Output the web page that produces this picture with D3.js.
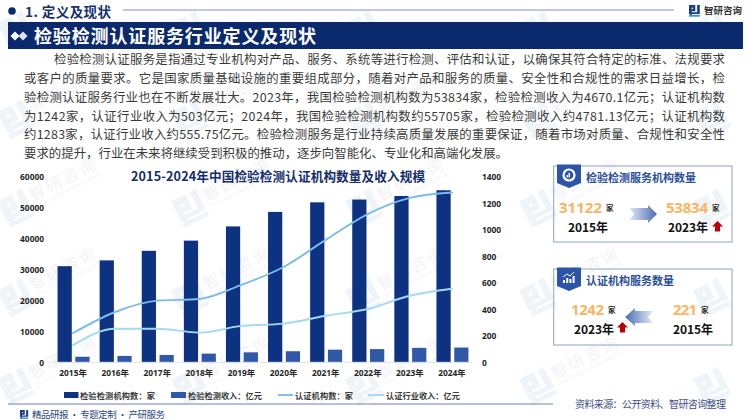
<!DOCTYPE html>
<html><head><meta charset="utf-8">
<script src="https://cdn.jsdelivr.net/npm/d3@7/dist/d3.min.js"></script>
<style>html,body{margin:0;padding:0;background:#fff;overflow:hidden}svg{display:block;font-family:"Noto Sans CJK SC","Noto Sans",sans-serif}</style>
</head><body><svg id="c" width="750" height="420"></svg>
<script>
const years=["2015年","2016年","2017年","2018年","2019年","2020年","2021年","2022年","2023年","2024年"];
const testOrgs=[31122,33000,36100,39400,44000,48700,51800,52700,53834,55705];
const testRevenue=[1800,2065,2377,2810,3225,3586,4090,4275,4670,4781];
const certOrgs=[221,380,466,478,585,720,925,1120,1242,1283];
const certRevenue=[130,254,254,224,275,292,352,403,503,556];
const leftTicks=[0,10000,20000,30000,40000,50000,60000];
const rightTicks=[0,200,400,600,800,1000,1200,1400];
const paragraph=[
"检验检测认证服务是指通过专业机构对产品、服务、系统等进行检测、评估和认证，以确保其符合特定的标准、法规要求",
"或客户的质量要求。它是国家质量基础设施的重要组成部分，随着对产品和服务的质量、安全性和合规性的需求日益增长，检",
"验检测认证服务行业也在不断发展壮大。2023年，我国检验检测机构数为53834家，检验检测收入为4670.1亿元；认证机构数",
"为1242家，认证行业收入为503亿元；2024年，我国检验检测机构数约55705家，检验检测收入约4781.13亿元；认证机构数",
"约1283家，认证行业收入约555.75亿元。检验检测服务是行业持续高质量发展的重要保证，随着市场对质量、合规性和安全性",
"要求的提升，行业在未来将继续受到积极的推动，逐步向智能化、专业化和高端化发展。"];
const seriesNames=["检验检测机构数：家","检验检测收入：亿元","认证机构数：家","认证行业收入：亿元"];
const C={navy:"#0c3281",blue:"#2f58a8",line1:"#7cbce8",line2:"#a3d9f5",ban:"#0b2a6d",orange:"#fbb45f",red:"#c00000"};

const svg=d3.select("#c");
const defs=svg.append("defs");
function grad(id,x1,x2,a,b){const g=defs.append("linearGradient").attr("id",id).attr("x1",x1).attr("x2",x2).attr("y1",0).attr("y2",0);
 g.append("stop").attr("offset",0).attr("stop-color",a);g.append("stop").attr("offset",1).attr("stop-color",b);}
grad("gR",0,1,"#e4eaf5","#4a6cb2");grad("gL",1,0,"#e4eaf5","#4a6cb2");

function T(x,y,s,o={}){const t=svg.append("text").attr("x",x).attr("y",y).attr("dominant-baseline","central").text(s)
 .attr("font-size",o.size||12).attr("font-weight",o.w||400).attr("fill",o.fill||"#333").attr("text-anchor",o.anchor||"start");
 if(o.font)t.attr("font-family",o.font);
 if(o.len)t.attr("textLength",o.len).attr("lengthAdjust",o.adj||"spacing");return t;}
function logo(p,x,y,s,c1,c2){const g=p.append("g").attr("transform",`translate(${x},${y}) scale(${s})`);
 g.append("path").attr("d","M0 0H7V7H3V10H0Z M3 3V4.5H4.5V3Z").attr("fill",c1).attr("fill-rule","evenodd");
 g.append("path").attr("d","M9 0H12V10H3V12H0V11H1V8H9Z").attr("fill",c1);
 g.append("rect").attr("x",0).attr("y",11).attr("width",12).attr("height",2).attr("fill",c2);return g;}

// watermark layer
const wm=svg.append("g");
d3.range(5).forEach(i=>d3.range(5).forEach(j=>{
 const x=14+i*174,y=26+j*89;
 const g=wm.append("g").attr("transform",`translate(${x},${y}) rotate(-27)`);
 logo(g,-14,-10,2.3,"#eff4f9","#eff4f9");
 if(i<4&&j>0){
  g.append("text").attr("x",18).attr("y",6).attr("font-size",16).attr("fill","#f2f3f7").attr("letter-spacing",2.5).text("智研咨询");
  g.append("text").attr("x",19).attr("y",14).attr("font-size",4.5).attr("fill","#f2f3f7").text("INTELLIGENCE RESEARCH GROUP");
 }
}));

// header
svg.append("circle").attr("cx",12).attr("cy",11).attr("r",3.8).attr("fill",C.ban);
T(25,11,"1. 定义及现状",{size:13.5,w:700,fill:"#15306f",len:86});
svg.append("line").attr("x1",123).attr("x2",674).attr("y1",10).attr("y2",10).attr("stroke","#7f93c0").attr("stroke-width",1);
logo(svg,689,5,0.9,"#1b3f8f","#2f8fd8");
T(704,10,"智研咨询",{size:9.5,w:700,fill:"#333",len:38});
svg.append("rect").attr("x",8).attr("y",22).attr("width",735).attr("height",27).attr("fill",C.ban);
[[15,"#fff"],[23,"#dfe5f0"]].forEach(([cx,f])=>svg.append("path").attr("d",`M${cx-4.5} 36L${cx} 31.5L${cx+4.5} 36L${cx} 40.5Z`).attr("fill",f));
T(34,35,"检验检测认证服务行业定义及现状",{size:18,w:700,fill:"#fff",len:282});

paragraph.forEach((s,i)=>{const ys=[59,78,97,115.5,134,153];
 T(i?24:54,ys[i],s,{size:12.4,fill:"#3a3a3a",len:i==5?484:(i?701:671)});});

// chart
const x0=d3.scaleBand().domain(years).range([52,473]);
const base=362.3,topY=177;
const yL=d3.scaleLinear().domain([0,60000]).range([base,topY]);
const yR=d3.scaleLinear().domain([0,1400]).range([base,topY]);
const inner=d3.scaleBand().domain(["a","b"]).range([-15.5,16.5]).paddingInner(0.2);
T(278,175,"2015-2024年中国检验检测认证机构数量及收入规模",{size:12.6,w:700,fill:"#142d70",anchor:"middle",len:294});

function bars(vals,key,color){svg.append("g").selectAll("rect").data(vals).join("rect")
 .attr("x",(d,i)=>x0(years[i])+x0.bandwidth()/2+inner(key)).attr("width",inner.bandwidth())
 .attr("y",d=>yL(d)).attr("height",d=>base-yL(d)).attr("fill",color);}
bars(testOrgs,"a",C.navy);bars(testRevenue,"b",C.blue);

svg.append("line").attr("x1",52).attr("x2",473).attr("y1",base).attr("y2",base).attr("stroke","#dfe3ea");

function lineS(vals,color){const l=d3.line().x((d,i)=>x0(years[i])+x0.bandwidth()/2).y(d=>yR(d)).curve(d3.curveMonotoneX);
 svg.append("path").attr("d",l(vals)).attr("fill","none").attr("stroke",color).attr("stroke-width",1.9).attr("stroke-linecap","round");}
lineS(certOrgs,C.line1);lineS(certRevenue,C.line2);

function styleAxis(g){g.select(".domain").remove();g.selectAll(".tick line").remove();
 g.selectAll("text").attr("font-size",8.4).attr("font-weight",700).attr("fill","#262626").attr("font-family",'"Noto Sans","Noto Sans CJK SC",sans-serif');}
svg.append("g").attr("transform","translate(44,0)").call(d3.axisLeft(yL).tickValues(leftTicks).tickFormat(d3.format("d")).tickSize(0).tickPadding(0)).call(styleAxis);
svg.append("g").attr("transform","translate(482,0)").call(d3.axisRight(yR).tickValues(rightTicks).tickFormat(d3.format("d")).tickSize(0).tickPadding(0)).call(styleAxis)
 .selectAll("text").attr("text-anchor","start");
svg.append("g").attr("transform",`translate(0,370)`).call(d3.axisBottom(x0).tickSize(0).tickPadding(0)).call(styleAxis);

// legend
const L=395;
svg.append("rect").attr("x",64).attr("y",L-3).attr("width",14.5).attr("height",6).attr("fill",C.navy);
T(80,L,seriesNames[0],{size:8.2,w:700,fill:"#3a3a3a",len:75});
svg.append("rect").attr("x",171).attr("y",L-3).attr("width",15).attr("height",6).attr("fill",C.blue);
T(188,L,seriesNames[1],{size:8.2,w:700,fill:"#3a3a3a",len:74});
svg.append("line").attr("x1",278).attr("x2",293).attr("y1",L).attr("y2",L).attr("stroke",C.line1).attr("stroke-width",1.9);
T(295,L,seriesNames[2],{size:8.2,w:700,fill:"#3a3a3a",len:58});
svg.append("line").attr("x1",368).attr("x2",384).attr("y1",L).attr("y2",L).attr("stroke",C.line2).attr("stroke-width",1.9);
T(386,L,seriesNames[3],{size:8.2,w:700,fill:"#3a3a3a",len:74});

// cards
function card(y,h,title,tlen,kind){
 svg.append("rect").attr("x",553.7).attr("y",y).attr("width",178.3).attr("height",h).attr("fill","none").attr("stroke","#8da0cc").attr("stroke-width",1);
 svg.append("path").attr("d",`M557 ${y-1.5}H581V${y+17}L569 ${y+22}L557 ${y+17}Z`).attr("fill","#2c54a8");
 const cx=569,cy=y+9;
 if(kind==0){svg.append("circle").attr("cx",cx).attr("cy",cy).attr("r",5.5).attr("fill","none").attr("stroke","#fff").attr("stroke-width",2.2);
  svg.append("path").attr("d",`M${cx-2.5} ${cy+2.5}V${cy}h1.4V${cy+2.5}Zm2 0V${cy-2}h1.4V${cy+2.5}`).attr("fill","#fff");}
 else{svg.append("path").attr("d",`M${cx-6} ${cy+5}v-3h2v3Zm3.2 0v-5h2v5Zm3.2 0v-4h2v4Zm3.2 0v-7h2v7Z`).attr("fill","#fff");
  svg.append("path").attr("d",`M${cx-6} ${cy-1}L${cx-2} ${cy-4}L${cx+1} ${cy-2}L${cx+5} ${cy-6}`).attr("fill","none").attr("stroke","#fff");}
 T(586,y+11,title,{size:11,w:700,fill:"#2b4f9d",len:tlen});
}
function stat(x,y,num,nlen,yr,yx){
 T(x,y,num,{size:15,w:700,fill:C.orange,len:nlen,font:'"Noto Sans",sans-serif'});
 T(x+nlen+4,y,"家",{size:7.5,w:700,fill:"#333"});
 T(yx,y+19.5,yr,{size:12,w:700,fill:"#111",len:40});
}
function up(x,y){svg.append("path").attr("d",`M${x} ${y}l5.5 5.5h-3v5h-5v-5h-3Z`).attr("fill",C.red);}
card(166,76,"检验检测服务机构数量",110,0);
stat(559,207,"31122",43,"2015年",568);
stat(666,207,"53834",42,"2023年",668);
up(717.5,221);
svg.append("path").attr("d","M629 208H648V205L657 214L648 223V220H629L634 214Z").attr("fill","url(#gR)");
card(269,76,"认证机构服务数量",88,1);
stat(571,309,"1242",33,"2023年",574);
stat(673,309,"221",24,"2015年",673);
up(622.5,322);
svg.append("path").attr("d","M653 311H635V308L625 317L635 326V323H653L648 317Z").attr("fill","url(#gL)");

// footer
svg.append("line").attr("x1",8).attr("x2",553).attr("y1",404).attr("y2",404).attr("stroke","#6d80b2").attr("stroke-width",1);
T(575,403,"资料来源：公开资料、智研咨询整理",{size:10,fill:"#3c4d8a",len:151});
logo(svg,20,410,0.68,"#1b3f8f","#2f8fd8");
T(32,414,"精品研报 · 专题定制 · 产研服务",{size:9.5,fill:"#2b4a80",len:133});
</script></body></html>
